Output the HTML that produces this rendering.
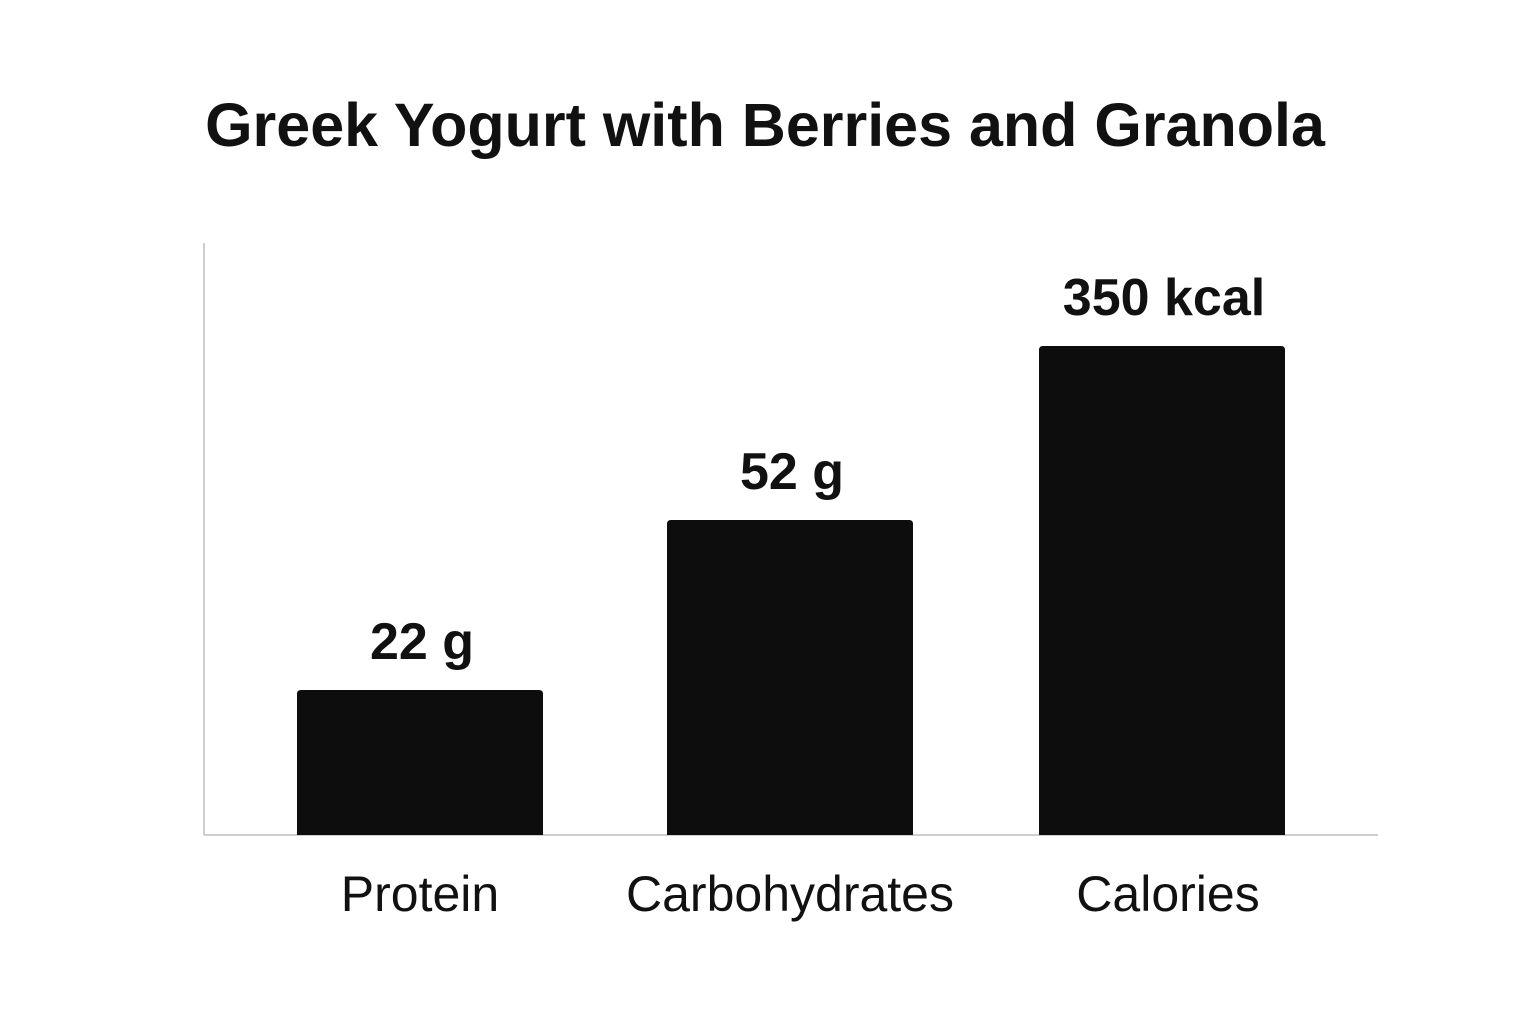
<!DOCTYPE html>
<html><head><meta charset="utf-8"><style>
html,body{margin:0;padding:0;background:#fff;}
body{width:1536px;height:1024px;overflow:hidden;font-family:"Liberation Sans",sans-serif;}
</style></head><body>
<svg id="chart" width="1536" height="1024" viewBox="0 0 1536 1024">
<text x="765" y="146" text-anchor="middle" font-size="61" font-weight="bold" fill="#111">Greek Yogurt with Berries and Granola</text>
<line x1="204" y1="243" x2="204" y2="835" stroke="#cfcfcf" stroke-width="2"/>
<line x1="204" y1="835" x2="1378" y2="835" stroke="#cfcfcf" stroke-width="2"/>
<g id="bars"></g>
</svg>
<script>
const categories = ["Protein", "Carbohydrates", "Calories"];
const values = [22, 52, 350];
const valueLabels = ["22 g", "52 g", "350 kcal"];
const scaleDomain = [0, 22, 52, 350];
const scaleRange = [0, 0.245, 0.532, 0.826];

const baseY = 835, plotH = 592, barW = 246;
const centers = [420, 790, 1162];
const labelCenters = [420, 790, 1168];
function yScale(v){
  for(let i=1;i<scaleDomain.length;i++){
    if(v<=scaleDomain[i] || i===scaleDomain.length-1){
      const t=(v-scaleDomain[i-1])/(scaleDomain[i]-scaleDomain[i-1]);
      const f=scaleRange[i-1]+t*(scaleRange[i]-scaleRange[i-1]);
      return baseY - f*plotH;
    }
  }
}
const NS="http://www.w3.org/2000/svg";
const g=document.getElementById('bars');
categories.forEach((c,i)=>{
  const top=yScale(values[i]);
  const cx=centers[i];
  const p=document.createElementNS(NS,'path');
  const x0=cx-barW/2,x1=cx+barW/2,r=4;
  p.setAttribute('d',`M${x0},${baseY} L${x0},${top+r} Q${x0},${top} ${x0+r},${top} L${x1-r},${top} Q${x1},${top} ${x1},${top+r} L${x1},${baseY} Z`);
  p.setAttribute('fill','#0d0d0d');
  
  
  g.appendChild(p);
  const vl=document.createElementNS(NS,'text');
  vl.setAttribute('x',cx+2);vl.setAttribute('y',top-31);
  vl.setAttribute('text-anchor','middle');vl.setAttribute('font-size','52');
  vl.setAttribute('font-weight','bold');vl.setAttribute('fill','#111');
  vl.textContent=valueLabels[i];
  
  
  g.appendChild(vl);
  const cl=document.createElementNS(NS,'text');
  cl.setAttribute('x',labelCenters[i]);cl.setAttribute('y',911);
  cl.setAttribute('text-anchor','middle');cl.setAttribute('font-size','50');
  cl.setAttribute('fill','#111');
  cl.textContent=c;
  
  
  g.appendChild(cl);
});
</script>
</body></html>
